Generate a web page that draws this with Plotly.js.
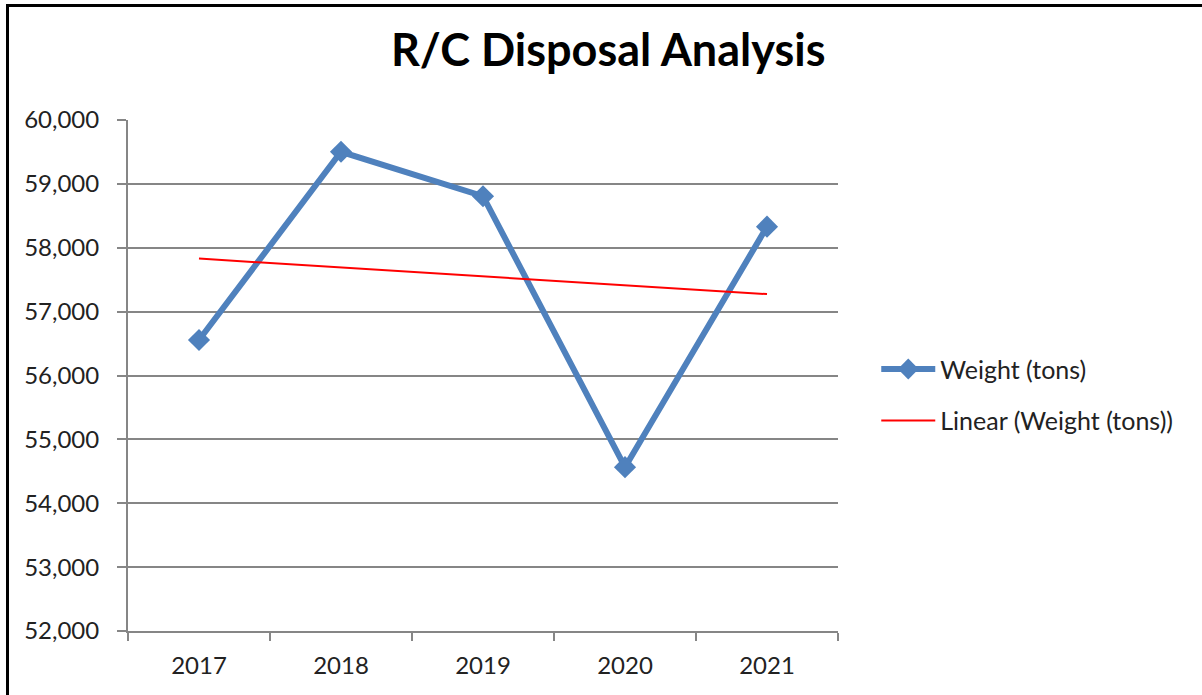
<!DOCTYPE html>
<html><head><meta charset="utf-8">
<script src="https://cdn.plot.ly/plotly-3.0.1.min.js"></script>
<style>
html,body{margin:0;padding:0;overflow:hidden;background:#fff;}
#chart{width:1202px;height:695px;}
#frame{position:absolute;left:6px;top:4px;width:1300px;height:800px;border-left:3px solid #000;border-top:3px solid #000;pointer-events:none;}
</style></head><body>
<div id="chart"></div><div id="frame"></div>
<script>
const years = ['2017', '2018', '2019', '2020', '2021'];
const weightTons = [56556, 59502, 58807, 54565, 58330];
const yTickVals = [52000, 53000, 54000, 55000, 56000, 57000, 58000, 59000, 60000];
const seriesName = 'Weight (tons)';
const trendName = 'Linear (Weight (tons))';

// least-squares linear trendline (as Excel does)
const n = weightTons.length;
const xs = weightTons.map((_, i) => i + 1);
const mx = xs.reduce((a, b) => a + b, 0) / n;
const my = weightTons.reduce((a, b) => a + b, 0) / n;
let sxy = 0, sxx = 0;
for (let i = 0; i < n; i++) { sxy += (xs[i] - mx) * (weightTons[i] - my); sxx += (xs[i] - mx) ** 2; }
const slope = sxy / sxx, intercept = my - slope * mx;
const trend = xs.map(x => intercept + slope * x);

const FONT = 'Lato, "Open Sans", sans-serif';
const GRID = '#868686';
const BLUE = '#4F81BD';

const traces = [
  {x: years, y: weightTons, name: seriesName, type: 'scatter', mode: 'lines+markers',
   legendgroup: 'a', line: {color: BLUE, width: 6},
   marker: {symbol: 'diamond', size: 17, color: BLUE}},
  {x: years, y: trend, name: trendName, type: 'scatter', mode: 'lines',
   legendgroup: 'b', line: {color: '#FF0000', width: 2}}
];

const layout = {
  width: 1202, height: 695,
  margin: {l: 128, r: 364, t: 120, b: 64},
  paper_bgcolor: '#fff', plot_bgcolor: '#fff',
  font: {family: FONT, color: '#222'},
  title: {text: 'R/C Disposal Analysis', xref: 'container', x: 0.506, xanchor: 'center',
          yref: 'container', y: 0.927, yanchor: 'middle',
          font: {family: FONT, size: 45, weight: 700, color: '#000'}},
  xaxis: {type: 'category', range: [-0.5, 4.5], tickson: 'boundaries', ticks: 'outside',
          ticklen: 8, tickwidth: 2, tickcolor: GRID, showline: true, linecolor: GRID, linewidth: 2,
          showgrid: false, zeroline: false, tickfont: {size: 24, color: '#222'}, ticklabelstandoff: 12,
          fixedrange: true},
  yaxis: {range: [52000, 60000], tickvals: yTickVals, tickformat: ',d', ticks: 'outside',
          ticklen: 9, tickwidth: 2, tickcolor: GRID, showline: true, linecolor: GRID, linewidth: 2,
          showgrid: true, gridcolor: GRID, gridwidth: 2, zeroline: false,
          tickfont: {size: 24, color: '#222'}, ticklabelstandoff: 13, fixedrange: true},
  showlegend: true,
  legend: {xref: 'container', yref: 'container', x: 0.729, y: 0.432, xanchor: 'left', yanchor: 'middle',
           traceorder: 'grouped', tracegroupgap: 16, itemwidth: 54, font: {size: 25, color: '#222'},
           bgcolor: 'rgba(0,0,0,0)'}
};

Plotly.newPlot('chart', traces, layout, {displayModeBar: false, staticPlot: true});
</script>
</body></html>
